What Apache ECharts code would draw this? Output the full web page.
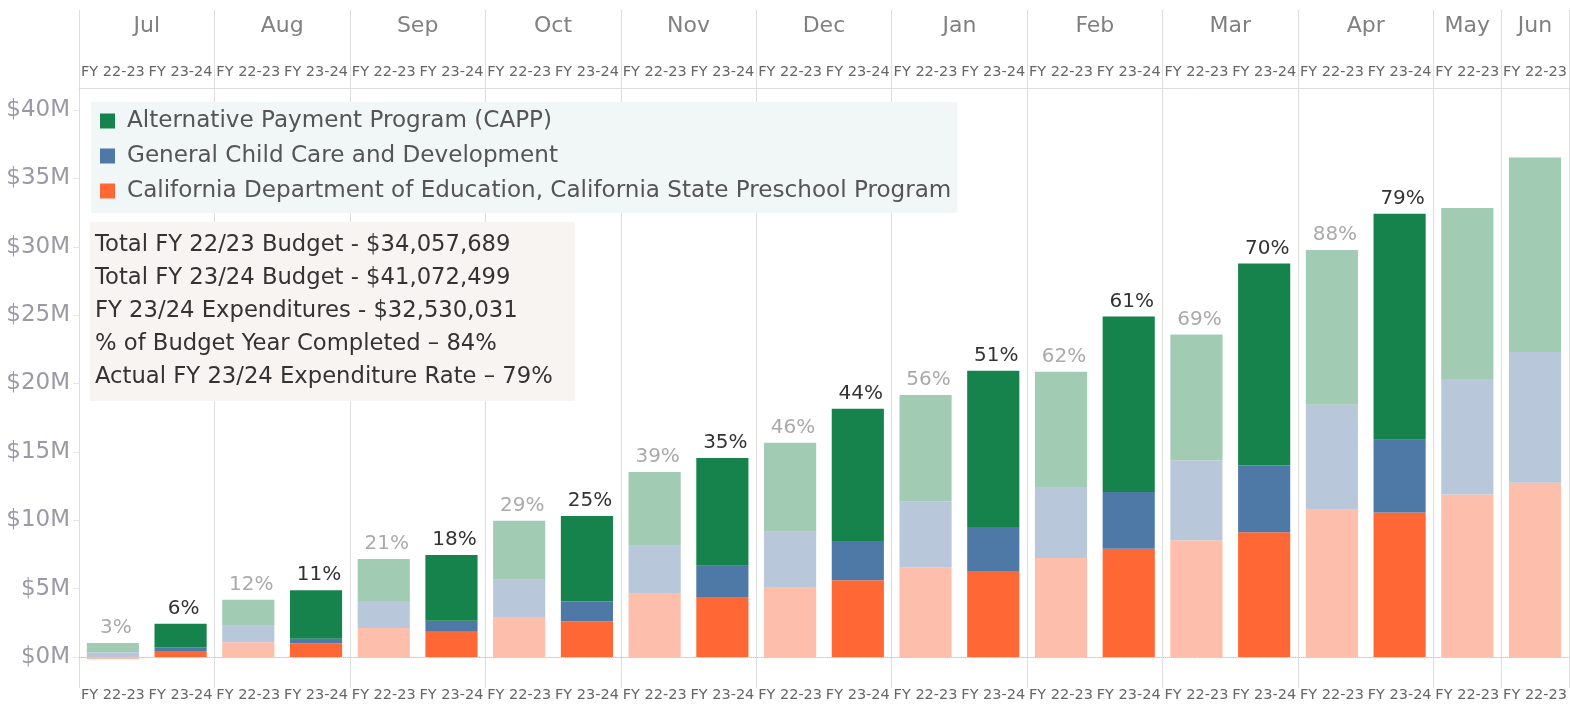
<!DOCTYPE html>
<html>
<head>
<meta charset="utf-8">
<script src="https://cdn.jsdelivr.net/npm/echarts@6/dist/echarts.min.js"></script>
<style>
  html, body { margin: 0; padding: 0; background: #fff; }
  #chart { width: 1570px; height: 711px; }
</style>
</head>
<body>
<div id="chart"></div>
<script>
// months and how many FY columns each one has
const months = ['Jul', 'Aug', 'Sep', 'Oct', 'Nov', 'Dec', 'Jan', 'Feb', 'Mar', 'Apr', 'May', 'Jun'];
const monthSlots = [2, 2, 2, 2, 2, 2, 2, 2, 2, 2, 1, 1];
const fyLabels = [
    'FY 22-23', 'FY 23-24', 'FY 22-23', 'FY 23-24', 'FY 22-23', 'FY 23-24', 'FY 22-23', 'FY 23-24',
    'FY 22-23', 'FY 23-24', 'FY 22-23', 'FY 23-24', 'FY 22-23', 'FY 23-24', 'FY 22-23', 'FY 23-24',
    'FY 22-23', 'FY 23-24', 'FY 22-23', 'FY 23-24', 'FY 22-23', 'FY 22-23'
];
// cumulative spend, $M
const csppValues = [-0.17, 0.44, 1.07, 1.00, 2.12, 1.85, 2.93, 2.61, 4.63, 4.39, 5.12, 5.61, 6.56, 6.24, 7.24, 7.92, 8.53, 9.13, 10.76, 10.56, 11.88, 12.74];
const generalValues = [0.34, 0.27, 1.22, 0.34, 1.97, 0.80, 2.72, 1.44, 3.51, 2.29, 4.04, 2.87, 4.83, 3.27, 5.19, 4.15, 5.86, 4.87, 7.69, 5.32, 8.45, 9.56];
const cappValues = [0.68, 1.73, 1.90, 3.54, 3.08, 4.81, 4.32, 6.26, 5.39, 7.87, 6.51, 9.68, 7.77, 11.43, 8.43, 12.83, 9.20, 14.78, 11.32, 16.54, 12.50, 14.22];
const pctLabels = ['3%', '6%', '12%', '11%', '21%', '18%', '29%', '25%', '39%', '35%', '46%', '44%', '56%', '51%', '62%', '61%', '69%', '70%', '88%', '79%', '', ''];
const yTicks = [0, 5, 10, 15, 20, 25, 30, 35, 40];
const infoLines = [
    'Total FY 22/23 Budget - $34,057,689',
    'Total FY 23/24 Budget - $41,072,499',
    'FY 23/24 Expenditures - $32,530,031',
    '% of Budget Year Completed \u2013 84%',
    'Actual FY 23/24 Expenditure Rate \u2013 79%'
];

const NAME_CAPP = 'Alternative Payment Program (CAPP)';
const NAME_GEN = 'General Child Care and Development';
const NAME_CSPP = 'California Department of Education, California State Preschool Program';

const font = 'DejaVu Sans';
const colors = {
    capp: ['#A1CBB3', '#17834C'],
    gen: ['#B8C8DA', '#4E79A7'],
    cspp: ['#FDBFAB', '#FF6735']
};

// slot index where each month starts, plus month centres for header labels
const monthStarts = [];
const monthCenters = {};
let pos = 0;
months.forEach((m, i) => {
    monthStarts.push(pos);
    monthCenters[pos + monthSlots[i] / 2] = m;
    pos += monthSlots[i];
});
const isMonthStart = idx => monthStarts.indexOf(idx) > -1;
const categories = fyLabels.map((fy, i) => i + '|' + fy);
const isCurrent = i => fyLabels[i] === 'FY 23-24';

function barData(values, pair) {
    return values.map((v, i) => ({
        value: v,
        itemStyle: { color: pair[isCurrent(i) ? 1 : 0] }
    }));
}

const chart = echarts.init(document.getElementById('chart'));

const option = {
    animation: false,
    textStyle: { fontFamily: font },
    title: {
        text: infoLines.join('\n'),
        left: 90,
        top: 222,
        backgroundColor: '#F8F4F1',
        padding: [7, 22, 7, 5],
        textStyle: { fontFamily: font, fontSize: 22.7, fontWeight: 'normal', color: '#333', lineHeight: 33 }
    },
    legend: {
        orient: 'vertical',
        left: 91,
        top: 102,
        padding: [7, 6, 10, 9],
        backgroundColor: '#F1F7F6',
        itemWidth: 15,
        itemHeight: 15,
        itemGap: 11,
        icon: 'rect',
        data: [NAME_CAPP, NAME_GEN, NAME_CSPP],
        textStyle: { fontFamily: font, fontSize: 23.1, color: '#555', lineHeight: 24, padding: [0, 0, 0, 7] }
    },
    grid: { left: 79, right: 0, top: 88, bottom: 31, containLabel: false },
    xAxis: [
        {
            type: 'category',
            data: categories,
            position: 'bottom',
            axisLine: { show: true, lineStyle: { color: '#ddd' } },
            axisTick: { show: true, length: 31, interval: isMonthStart, lineStyle: { color: '#ddd' } },
            splitLine: { show: true, interval: isMonthStart, lineStyle: { color: '#ddd' } },
            axisLabel: {
                interval: 0, margin: 8, fontSize: 14.5, color: '#666',
                formatter: v => v.split('|')[1]
            }
        },
        {
            type: 'category',
            data: categories,
            position: 'top',
            axisLine: { show: true, lineStyle: { color: '#ddd' } },
            axisTick: { show: true, length: 78, interval: isMonthStart, lineStyle: { color: '#ddd' } },
            axisLabel: {
                interval: 0, margin: 8, fontSize: 14.5, color: '#666',
                formatter: v => v.split('|')[1]
            }
        },
        {
            type: 'value',
            min: 0,
            max: fyLabels.length,
            position: 'top',
            offset: 43,
            axisLine: { show: false },
            axisTick: { show: false },
            splitLine: { show: false },
            axisLabel: {
                customValues: Object.keys(monthCenters).map(Number),
                margin: 8, fontSize: 22, color: '#808080',
                formatter: v => monthCenters[v]
            }
        }
    ],
    yAxis: {
        type: 'value',
        min: -1.682,
        max: 41.61,
        axisLine: { show: false },
        splitLine: { show: false },
        axisTick: { show: true, customValues: yTicks, length: 6, lineStyle: { color: '#e8e8e8' } },
        axisLabel: {
            customValues: yTicks, margin: 9, fontSize: 23, color: '#9a9aa6',
            formatter: v => '$' + v + 'M'
        }
    },
    series: [
        {
            name: NAME_CSPP,
            type: 'bar',
            stack: 'total',
            barCategoryGap: '23%',
            itemStyle: { color: colors.cspp[1] },
            data: barData(csppValues, colors.cspp),
            markLine: {
                silent: true,
                symbol: 'none',
                label: { show: false },
                lineStyle: { type: 'dotted', color: '#c8c8c8', width: 1 },
                data: [{ yAxis: 0 }]
            }
        },
        {
            name: NAME_GEN,
            type: 'bar',
            stack: 'total',
            barCategoryGap: '23%',
            itemStyle: { color: colors.gen[1] },
            data: barData(generalValues, colors.gen)
        },
        {
            name: NAME_CAPP,
            type: 'bar',
            stack: 'total',
            barCategoryGap: '23%',
            itemStyle: { color: colors.capp[1] },
            data: cappValues.map((v, i) => ({
                value: v,
                itemStyle: { color: colors.capp[isCurrent(i) ? 1 : 0] },
                label: { color: isCurrent(i) ? '#333' : '#aaa' }
            })),
            label: {
                show: true,
                position: 'top',
                distance: 5,
                offset: [3, 0],
                fontSize: 20,
                formatter: p => pctLabels[p.dataIndex]
            }
        }
    ]
};

chart.setOption(option);

window.addEventListener('resize', () => {
    chart.resize();
});
</script>
</body>
</html>
